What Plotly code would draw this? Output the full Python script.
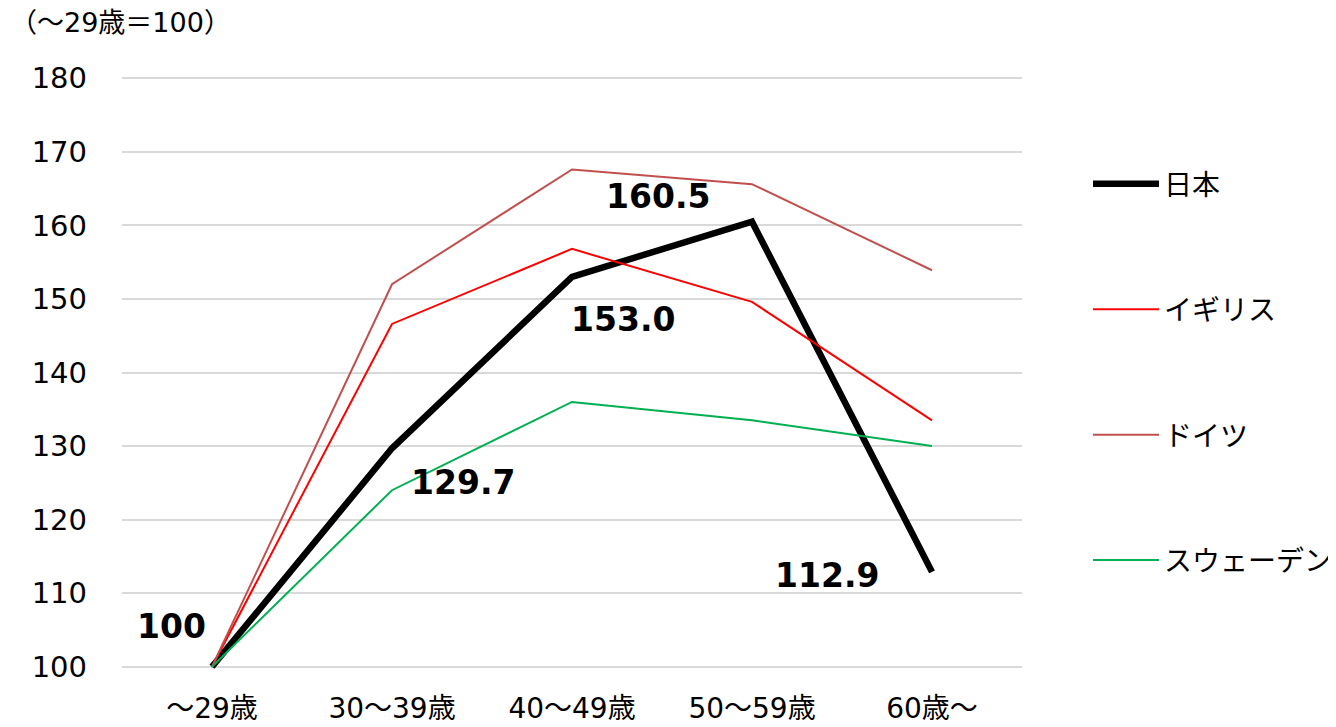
import plotly.graph_objects as go

categories = ["～29歳", "30～39歳", "40～49歳", "50～59歳", "60歳～"]
series_names = ["日本", "イギリス", "ドイツ", "スウェーデン"]
japan = [100, 129.7, 153.0, 160.5, 112.9]
uk = [100, 146.6, 156.8, 149.6, 133.5]
germany = [100, 152.0, 167.6, 165.6, 153.9]
sweden = [100, 124.0, 136.0, 133.5, 130.0]
japan_labels = ["100", "129.7", "153.0", "160.5", "112.9"]
y_ticks = [100, 110, 120, 130, 140, 150, 160, 170, 180]
unit_note = "（～29歳＝100）"

colors = ["#000000", "#FF0000", "#C0504D", "#00B050"]
widths = [6.5, 2, 2, 2]
label_xshift = [-41, 71, 51, -94, -105]
label_yshift = [40, -34, -43, 25, -4]

# page body has an 8px default margin
OFF = 8
Y0, Y1 = 99.7, 180.3
PX_PER_UNIT = (667 - 78) / 80.0
top_px = 78 - (Y1 - 180) * PX_PER_UNIT
bot_px = 667 + (100 - Y0) * PX_PER_UNIT

W, H = 1336 - OFF, 727 - OFF
L = 122 - OFF
R = 314
T = top_px - OFF
B = H - (bot_px - OFF)
plot_w = W - L - R
plot_h = H - T - B

def px_x(px):
    return (px - OFF - L) / plot_w

def px_y(py):
    return (H - B - (py - OFF)) / plot_h

fig = go.Figure()
for name, vals, c, w in zip(series_names, [japan, uk, germany, sweden], colors, widths):
    fig.add_trace(go.Scatter(
        x=categories, y=vals, mode="lines", name=name, legendgroup=name,
        line=dict(color=c, width=w), hoverinfo="x+y+name",
    ))

for cat, v, txt, dx, dy in zip(categories, japan, japan_labels, label_xshift, label_yshift):
    fig.add_annotation(
        x=cat, y=v, text="<b>" + txt + "</b>", showarrow=False, xshift=dx, yshift=dy,
        font=dict(family="DejaVu Sans", size=33, color="#000000"),
        xanchor="center", yanchor="middle",
    )

fig.add_annotation(
    xref="paper", yref="paper", x=px_x(8), y=px_y(22),
    text=unit_note, showarrow=False, xanchor="left", yanchor="middle",
    font=dict(family="DejaVu Sans, Noto Sans CJK JP", size=27, color="#000000"),
)

fig.update_layout(
    width=W, height=H,
    margin=dict(l=L, r=R, t=T, b=B, autoexpand=False),
    plot_bgcolor="white", paper_bgcolor="white",
    showlegend=True,
    legend=dict(
        x=px_x(1088), xanchor="left",
        y=px_y(159), yanchor="top",
        traceorder="grouped", tracegroupgap=86, itemwidth=66,
        font=dict(family="Noto Sans CJK JP", size=28, color="#000000"),
        bgcolor="rgba(0,0,0,0)",
    ),
    xaxis=dict(
        type="category", range=[-0.5, 4.5], showgrid=False, showline=False,
        zeroline=False, ticks="", ticklabelstandoff=20,
        tickfont=dict(family="DejaVu Sans, Noto Sans CJK JP", size=28, color="#000000"),
    ),
    yaxis=dict(
        range=[Y0, Y1], tickvals=y_ticks, showgrid=True, gridcolor="#D9D9D9",
        gridwidth=2, zeroline=False, showline=False, ticks="",
        ticklabelstandoff=34,
        tickfont=dict(family="DejaVu Sans", size=29, color="#000000"),
    ),
)

fig.write_html("out.html")
